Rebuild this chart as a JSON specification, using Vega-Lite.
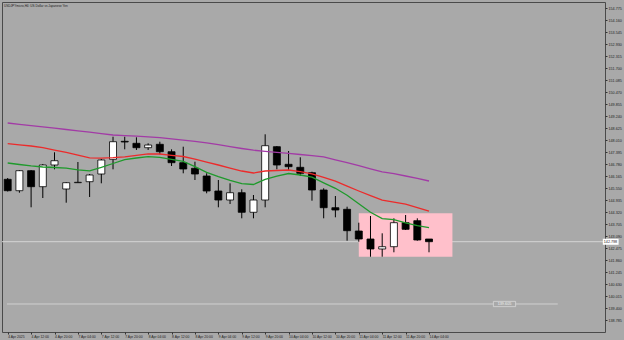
{
  "$schema": "https://vega.github.io/schema/vega-lite/v6.json",
  "autosize": {"type": "none"},
  "width": 603,
  "height": 330,
  "padding": {"left": 2, "top": 2, "right": 19, "bottom": 8},
  "background": "#a9a9a9",
  "config": {
    "view": {"fill": "#a9a9a9", "stroke": "#4a4a4a", "strokeWidth": 1},
    "font": "Liberation Sans",
    "axis": {"labelOverlap": false, "tickCount": 200, "labelFont": "Liberation Sans", "labelColor": "#222", "tickColor": "#333", "tickSize": 2, "domain": false, "grid": false, "title": null},
    "axisX": {"labelFontSize": 3.4, "labelAlign": "left", "labelPadding": 0, "labelDx": 0.5, "labelBound": false, "labelFlush": false},
    "axisY": {"labelFontSize": 3.7, "labelPadding": 1}
  },
  "title": {"text": "USDJPYmicro,H4: US Dollar vs Japanese Yen", "anchor": "start", "frame": "group", "offset": -6, "dx": 2, "fontSize": 3.1, "font": "Liberation Sans", "fontWeight": "normal", "color": "#222"},
  "datasets": {
    "candles": [
      {"i": 0, "o": 145.996, "h": 146.062, "l": 145.371, "c": 145.412},
      {"i": 1, "o": 145.412, "h": 146.472, "l": 145.309, "c": 146.437},
      {"i": 2, "o": 146.437, "h": 146.472, "l": 144.561, "c": 145.617},
      {"i": 3, "o": 145.617, "h": 146.780, "l": 145.037, "c": 146.729},
      {"i": 4, "o": 146.729, "h": 147.380, "l": 146.508, "c": 146.949},
      {"i": 5, "o": 145.499, "h": 145.857, "l": 144.797, "c": 145.822},
      {"i": 6, "o": 145.822, "h": 146.882, "l": 145.822, "c": 145.842},
      {"i": 7, "o": 145.873, "h": 146.267, "l": 145.089, "c": 146.216},
      {"i": 8, "o": 146.267, "h": 147.036, "l": 145.791, "c": 146.985},
      {"i": 9, "o": 147.021, "h": 148.179, "l": 146.508, "c": 147.923},
      {"i": 10, "o": 147.943, "h": 148.179, "l": 147.533, "c": 147.907},
      {"i": 11, "o": 147.841, "h": 148.148, "l": 147.497, "c": 147.615},
      {"i": 12, "o": 147.615, "h": 147.841, "l": 147.497, "c": 147.754},
      {"i": 13, "o": 147.790, "h": 147.923, "l": 147.277, "c": 147.410},
      {"i": 14, "o": 147.410, "h": 147.533, "l": 146.677, "c": 146.847},
      {"i": 15, "o": 146.847, "h": 147.667, "l": 146.303, "c": 146.524},
      {"i": 16, "o": 146.560, "h": 146.898, "l": 145.960, "c": 146.267},
      {"i": 17, "o": 146.165, "h": 146.303, "l": 145.278, "c": 145.396},
      {"i": 18, "o": 145.396, "h": 145.960, "l": 144.561, "c": 144.935},
      {"i": 19, "o": 144.935, "h": 145.791, "l": 144.730, "c": 145.309},
      {"i": 20, "o": 145.309, "h": 145.483, "l": 143.997, "c": 144.305},
      {"i": 21, "o": 144.305, "h": 145.191, "l": 143.997, "c": 144.935},
      {"i": 22, "o": 144.935, "h": 148.302, "l": 144.561, "c": 147.718},
      {"i": 23, "o": 147.667, "h": 147.702, "l": 146.508, "c": 146.729},
      {"i": 24, "o": 146.765, "h": 147.446, "l": 146.472, "c": 146.642},
      {"i": 25, "o": 146.611, "h": 147.123, "l": 146.165, "c": 146.303},
      {"i": 26, "o": 146.334, "h": 146.385, "l": 144.899, "c": 145.447},
      {"i": 27, "o": 145.447, "h": 145.535, "l": 143.997, "c": 144.540},
      {"i": 28, "o": 144.540, "h": 145.140, "l": 144.048, "c": 144.422},
      {"i": 29, "o": 144.458, "h": 144.592, "l": 142.849, "c": 143.362},
      {"i": 30, "o": 143.346, "h": 143.772, "l": 142.798, "c": 142.936},
      {"i": 31, "o": 142.936, "h": 144.115, "l": 142.029, "c": 142.424},
      {"i": 32, "o": 142.424, "h": 143.228, "l": 142.029, "c": 142.542},
      {"i": 33, "o": 142.542, "h": 143.997, "l": 142.255, "c": 143.772},
      {"i": 34, "o": 143.772, "h": 144.166, "l": 143.397, "c": 143.433},
      {"i": 35, "o": 143.874, "h": 143.997, "l": 142.849, "c": 142.885},
      {"i": 36, "o": 142.936, "h": 142.936, "l": 142.255, "c": 142.798}
    ],
    "ma": [
      {"i": 0, "slow": 148.881, "mid": 147.825, "fast": 146.831},
      {"i": 1, "slow": 148.815, "mid": 147.764, "fast": 146.754},
      {"i": 2, "slow": 148.748, "mid": 147.702, "fast": 146.683},
      {"i": 3, "slow": 148.681, "mid": 147.615, "fast": 146.626},
      {"i": 4, "slow": 148.615, "mid": 147.492, "fast": 146.601},
      {"i": 5, "slow": 148.548, "mid": 147.374, "fast": 146.570},
      {"i": 6, "slow": 148.481, "mid": 147.231, "fast": 146.483},
      {"i": 7, "slow": 148.410, "mid": 147.098, "fast": 146.431},
      {"i": 8, "slow": 148.338, "mid": 147.077, "fast": 146.611},
      {"i": 9, "slow": 148.266, "mid": 147.103, "fast": 146.806},
      {"i": 10, "slow": 148.235, "mid": 147.149, "fast": 147.000},
      {"i": 11, "slow": 148.205, "mid": 147.226, "fast": 147.087},
      {"i": 12, "slow": 148.174, "mid": 147.298, "fast": 147.159},
      {"i": 13, "slow": 148.128, "mid": 147.292, "fast": 147.123},
      {"i": 14, "slow": 148.066, "mid": 147.226, "fast": 147.016},
      {"i": 15, "slow": 148.005, "mid": 147.164, "fast": 146.913},
      {"i": 16, "slow": 147.943, "mid": 147.026, "fast": 146.642},
      {"i": 17, "slow": 147.866, "mid": 146.882, "fast": 146.349},
      {"i": 18, "slow": 147.769, "mid": 146.729, "fast": 146.134},
      {"i": 19, "slow": 147.672, "mid": 146.575, "fast": 145.945},
      {"i": 20, "slow": 147.574, "mid": 146.421, "fast": 145.775},
      {"i": 21, "slow": 147.487, "mid": 146.319, "fast": 145.729},
      {"i": 22, "slow": 147.431, "mid": 146.421, "fast": 145.996},
      {"i": 23, "slow": 147.380, "mid": 146.447, "fast": 146.155},
      {"i": 24, "slow": 147.323, "mid": 146.472, "fast": 146.293},
      {"i": 25, "slow": 147.267, "mid": 146.385, "fast": 146.216},
      {"i": 26, "slow": 147.210, "mid": 146.273, "fast": 146.103},
      {"i": 27, "slow": 147.144, "mid": 146.098, "fast": 145.816},
      {"i": 28, "slow": 146.995, "mid": 145.898, "fast": 145.535},
      {"i": 29, "slow": 146.847, "mid": 145.642, "fast": 145.176},
      {"i": 30, "slow": 146.693, "mid": 145.396, "fast": 144.740},
      {"i": 31, "slow": 146.534, "mid": 145.160, "fast": 144.305},
      {"i": 32, "slow": 146.380, "mid": 144.930, "fast": 143.982},
      {"i": 33, "slow": 146.283, "mid": 144.827, "fast": 143.930},
      {"i": 34, "slow": 146.165, "mid": 144.725, "fast": 143.761},
      {"i": 35, "slow": 146.047, "mid": 144.545, "fast": 143.623},
      {"i": 36, "slow": 145.909, "mid": 144.371, "fast": 143.515}
    ],
    "bid": [{"price": 142.798, "label": "142.798", "t0": 50.85, "t1": 52.2, "p0": 142.95, "p1": 142.64}],
    "hline": [{"price": 139.605, "label": "139.605", "t0": -0.059, "t1": 47, "b0": 41.5, "b1": 43.4, "bm": 42.45, "p0": 139.74, "p1": 139.47}],
    "box": [{"t0": 30, "t1": 38, "top": 144.253, "bottom": 142.029}]
  },
  "layer": [
    {
      "data": {"name": "bid"},
      "mark": {"type": "rule", "color": "#d4d4d4", "strokeWidth": 1},
      "encoding": {
        "y": {"field": "price", "type": "quantitative", "title": null,
          "scale": {"domain": [138.17, 155.083], "nice": false, "zero": false},
          "axis": {"orient": "right", "tickCount": 200, "values": [154.775, 154.16, 153.545, 152.93, 152.315, 151.7, 151.085, 150.47, 149.855, 149.24, 148.625, 148.01, 147.395, 146.78, 146.165, 145.55, 144.935, 144.32, 143.705, 143.09, 142.475, 141.86, 141.245, 140.63, 140.015, 139.4, 138.785],
            "format": ".3f", "labelOverlap": false}
        }
      }
    },
    {
      "data": {"name": "box"},
      "mark": {"type": "rect", "color": "#ffc0cb", "opacity": 1},
      "encoding": {
        "x": {"field": "t0", "type": "quantitative", "title": null,
          "scale": {"domain": [-0.059, 50.61], "nice": false, "zero": false},
          "axis": {"tickCount": 200, "values": [0, 2, 4, 6, 8, 10, 12, 14, 16, 18, 20, 22, 24, 26, 28, 30, 32, 34, 36],
            "labelExpr": "['4 Apr 2025','4 Apr 12:00','4 Apr 20:00','7 Apr 04:00','7 Apr 12:00','7 Apr 20:00','8 Apr 04:00','8 Apr 12:00','8 Apr 20:00','9 Apr 04:00','9 Apr 12:00','9 Apr 20:00','10 Apr 04:00','10 Apr 12:00','10 Apr 20:00','11 Apr 04:00','11 Apr 12:00','11 Apr 20:00','14 Apr 04:00'][datum.value/2]",
            "labelOverlap": false}
        },
        "x2": {"field": "t1"},
        "y": {"field": "top", "type": "quantitative", "title": null, "scale": {"domain": [138.17, 155.083], "nice": false, "zero": false}},
        "y2": {"field": "bottom"}
      }
    },
    {
      "data": {"name": "hline"},
      "mark": {"type": "rule", "color": "#d0d0d0", "strokeWidth": 1},
      "encoding": {
        "x": {"field": "t0", "type": "quantitative", "title": null, "scale": {"domain": [-0.059, 50.61], "nice": false, "zero": false}},
        "x2": {"field": "t1"},
        "y": {"field": "price", "type": "quantitative", "title": null, "scale": {"domain": [138.17, 155.083], "nice": false, "zero": false}}
      }
    },
    {
      "data": {"name": "hline"},
      "mark": {"type": "rect", "fill": "#a9a9a9", "stroke": "#d8d8d8", "strokeWidth": 0.8},
      "encoding": {
        "x": {"field": "b0", "type": "quantitative", "title": null, "scale": {"domain": [-0.059, 50.61], "nice": false, "zero": false}},
        "x2": {"field": "b1"},
        "y": {"field": "p0", "type": "quantitative", "title": null, "scale": {"domain": [138.17, 155.083], "nice": false, "zero": false}},
        "y2": {"field": "p1"}
      }
    },
    {
      "data": {"name": "hline"},
      "mark": {"type": "text", "fontSize": 3.8, "font": "Liberation Sans", "color": "#f2f2f2", "align": "center", "baseline": "middle"},
      "encoding": {
        "x": {"field": "bm", "type": "quantitative", "title": null, "scale": {"domain": [-0.059, 50.61], "nice": false, "zero": false}},
        "y": {"field": "price", "type": "quantitative", "title": null, "scale": {"domain": [138.17, 155.083], "nice": false, "zero": false}},
        "text": {"field": "label"}
      }
    },
    {
      "data": {"name": "candles"},
      "mark": {"type": "rule", "color": "#000", "strokeWidth": 1},
      "encoding": {
        "x": {"field": "i", "type": "quantitative", "title": null, "scale": {"domain": [-0.059, 50.61], "nice": false, "zero": false}},
        "y": {"field": "l", "type": "quantitative", "title": null, "scale": {"domain": [138.17, 155.083], "nice": false, "zero": false}},
        "y2": {"field": "h"}
      }
    },
    {
      "data": {"name": "candles"},
      "mark": {"type": "bar", "size": 7, "stroke": "#000", "strokeWidth": 0.8},
      "encoding": {
        "x": {"field": "i", "type": "quantitative", "title": null, "scale": {"domain": [-0.059, 50.61], "nice": false, "zero": false}},
        "y": {"field": "o", "type": "quantitative", "title": null, "scale": {"domain": [138.17, 155.083], "nice": false, "zero": false}},
        "y2": {"field": "c"},
        "fill": {"condition": {"test": "datum.c >= datum.o", "value": "#ffffff"}, "value": "#000000"}
      }
    },
    {
      "data": {"name": "ma"},
      "mark": {"type": "line", "color": "#a23ba6", "strokeWidth": 1.3},
      "encoding": {
        "x": {"field": "i", "type": "quantitative", "title": null, "scale": {"domain": [-0.059, 50.61], "nice": false, "zero": false}},
        "y": {"field": "slow", "type": "quantitative", "title": null, "scale": {"domain": [138.17, 155.083], "nice": false, "zero": false}}
      }
    },
    {
      "data": {"name": "ma"},
      "mark": {"type": "line", "color": "#ec2b2b", "strokeWidth": 1.3},
      "encoding": {
        "x": {"field": "i", "type": "quantitative", "title": null, "scale": {"domain": [-0.059, 50.61], "nice": false, "zero": false}},
        "y": {"field": "mid", "type": "quantitative", "title": null, "scale": {"domain": [138.17, 155.083], "nice": false, "zero": false}}
      }
    },
    {
      "data": {"name": "ma"},
      "mark": {"type": "line", "color": "#1f9a2c", "strokeWidth": 1.3},
      "encoding": {
        "x": {"field": "i", "type": "quantitative", "title": null, "scale": {"domain": [-0.059, 50.61], "nice": false, "zero": false}},
        "y": {"field": "fast", "type": "quantitative", "title": null, "scale": {"domain": [138.17, 155.083], "nice": false, "zero": false}}
      }
    },
    {
      "data": {"name": "bid"},
      "mark": {"type": "rect", "fill": "#ffffff", "clip": false},
      "encoding": {
        "x": {"field": "t0", "type": "quantitative", "title": null, "scale": {"domain": [-0.059, 50.61], "nice": false, "zero": false}},
        "x2": {"field": "t1"},
        "y": {"field": "p0", "type": "quantitative", "title": null, "scale": {"domain": [138.17, 155.083], "nice": false, "zero": false}},
        "y2": {"field": "p1"}
      }
    },
    {
      "data": {"name": "bid"},
      "mark": {"type": "text", "fontSize": 3.7, "font": "Liberation Sans", "color": "#222", "align": "left", "baseline": "middle", "dx": 1, "clip": false},
      "encoding": {
        "x": {"field": "t0", "type": "quantitative", "title": null, "scale": {"domain": [-0.059, 50.61], "nice": false, "zero": false}},
        "y": {"field": "price", "type": "quantitative", "title": null, "scale": {"domain": [138.17, 155.083], "nice": false, "zero": false}},
        "text": {"field": "label"}
      }
    }
  ]
}
